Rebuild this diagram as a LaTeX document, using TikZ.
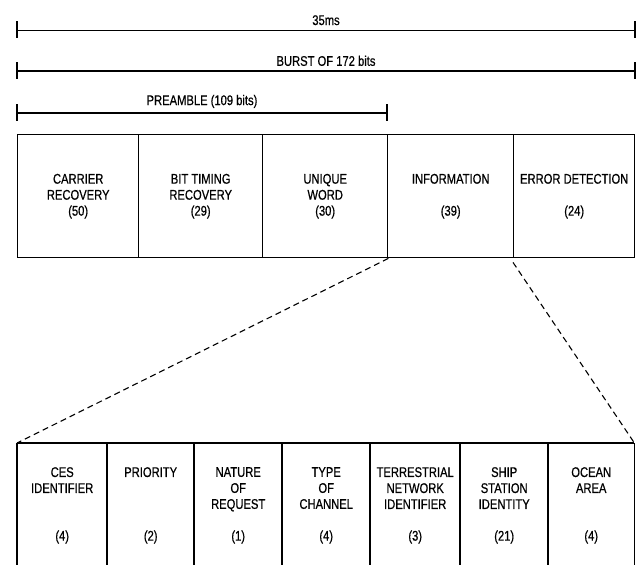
\documentclass[tikz,border=0pt]{standalone}
\usepackage{fontspec}
\setmainfont{Liberation Sans}[FakeStretch=0.8, FakeBold=0.6]
\begin{document}
\begin{tikzpicture}[x=1pt,y=-1pt,
  font=\fontsize{14}{16}\selectfont,
  field/.style={draw, line width=1.4pt, inner sep=0pt, anchor=north west, align=center},
  subfield/.style={inner sep=0pt, anchor=north west},
  edge/.style={line width=1.4pt},
  dimline/.style={line width=1pt},
  tickmark/.style={line width=1.1pt},
  zoomline/.style={line width=1.1pt, dash pattern=on 6pt off 4pt},
  lab/.style={inner sep=0pt, align=center, anchor=north},
  num/.style={inner sep=0pt, anchor=center}]
\useasboundingbox (0,0) rectangle (636,565);

% ---- dimension lines ----
\coordinate (t1) at (17,30);  \coordinate (t2) at (635,30);
\coordinate (b1) at (17,71);  \coordinate (b2) at (635,71);
\coordinate (p1) at (17,113); \coordinate (p2) at (387,113);
\draw[dimline] (t1) -- (t2) node[midway, above=1pt] (tl) {35ms};
\draw[dimline, line width=1.4pt] (b1) -- (b2) node[midway, above=1pt] (bl) {BURST OF 172 bits};
\draw[dimline, line width=1.4pt] (p1) -- (p2) node[midway, above=1pt] (pl) {PREAMBLE (109 bits)};
\foreach \c in {t1,t2,b1,b2,p1,p2}
  \draw[tickmark] ([yshift=9pt]\c) -- ([yshift=-8pt]\c);

% ---- burst fields ----
\node[field, minimum width=121pt, minimum height=123pt] (cr)  at (17,134)  {CARRIER\\RECOVERY\\(50)};
\node[field, minimum width=124pt, minimum height=123pt] (btr) at (138,134) {BIT TIMING\\RECOVERY\\(29)};
\node[field, minimum width=125pt, minimum height=123pt] (uw)  at (262,134) {UNIQUE\\WORD\\(30)};
\node[field, minimum width=126pt, minimum height=123pt] (inf) at (387,134) {INFORMATION\\[16pt](39)};
\node[field, minimum width=121pt, minimum height=123pt] (ed)  at (513,134) {ERROR DETECTION\\[16pt](24)};

% ---- information field breakdown ----
\coordinate (bot) at (0,565);
\node[subfield, minimum width=90pt, minimum height=122pt] (ces) at (17,443) {};
\node[subfield, minimum width=87pt, minimum height=122pt] (pri) at (107,443) {};
\node[subfield, minimum width=88pt, minimum height=122pt] (nat) at (194,443) {};
\node[subfield, minimum width=88pt, minimum height=122pt] (toc) at (282,443) {};
\node[subfield, minimum width=90pt, minimum height=122pt] (tni) at (370,443) {};
\node[subfield, minimum width=88pt, minimum height=122pt] (ssi) at (460,443) {};
\node[subfield, minimum width=86pt, minimum height=122pt] (oa)  at (548,443) {};

\draw[edge] (ces.north west) -- (oa.north east);
\foreach \n in {ces,pri,nat,toc,tni,ssi,oa}
  \draw[edge] (\n.north west) -- (\n.north west |- bot);
\draw[edge] (oa.north east) -- (oa.north east |- bot);

\node[lab] (ces-l) at ([yshift=-24pt]ces.north) {CES\\IDENTIFIER};
\node[lab] (pri-l) at ([yshift=-24pt]pri.north) {PRIORITY};
\node[lab] (nat-l) at ([yshift=-24pt]nat.north) {NATURE\\OF\\REQUEST};
\node[lab] (toc-l) at ([yshift=-24pt]toc.north) {TYPE\\OF\\CHANNEL};
\node[lab] (tni-l) at ([yshift=-24pt]tni.north) {TERRESTRIAL\\NETWORK\\IDENTIFIER};
\node[lab] (ssi-l) at ([yshift=-24pt]ssi.north) {SHIP\\STATION\\IDENTITY};
\node[lab] (oa-l)  at ([yshift=-24pt]oa.north)  {OCEAN\\AREA};

\node[num] (ces-n) at ([yshift=-94pt]ces.north) {(4)};
\node[num] (pri-n) at ([yshift=-94pt]pri.north) {(2)};
\node[num] (nat-n) at ([yshift=-94pt]nat.north) {(1)};
\node[num] (toc-n) at ([yshift=-94pt]toc.north) {(4)};
\node[num] (tni-n) at ([yshift=-94pt]tni.north) {(3)};
\node[num] (ssi-n) at ([yshift=-94pt]ssi.north) {(21)};
\node[num] (oa-n)  at ([yshift=-94pt]oa.north)  {(4)};

% ---- expansion lines ----
\draw[zoomline] (uw.south east) -- (ces.north west);
\draw[zoomline] ([yshift=-4pt]ed.south west) -- (oa.north east);
\end{tikzpicture}
\end{document}
